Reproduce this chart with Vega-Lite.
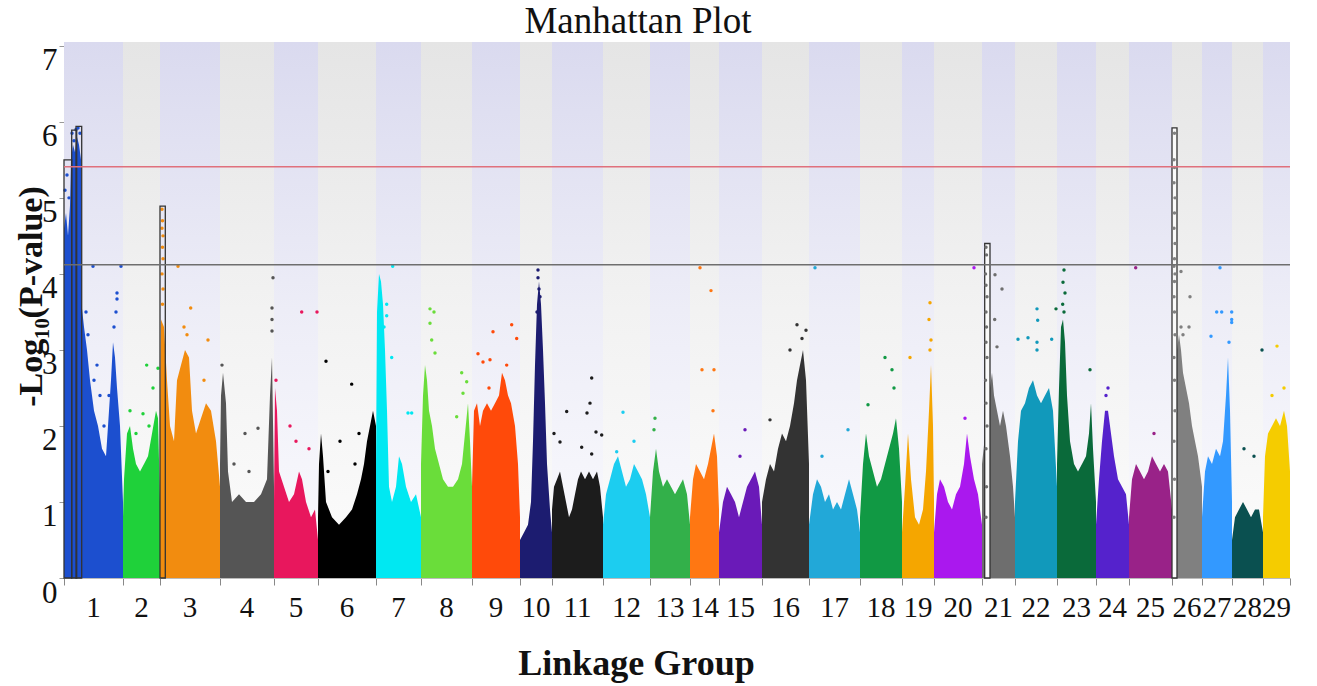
{
"$schema": "https://vega.github.io/schema/vega-lite/v6.json",
"width": 1226, "height": 536,
"autosize": "none",
"padding": {"left": 64, "top": 42, "right": 27, "bottom": 108},
"background": "white",
"config": {"view": {"stroke": null}, "font": "Liberation Serif"},
"title": {"text": "Manhattan Plot", "fontSize": 37, "font": "Liberation Serif", "fontWeight": "normal", "color": "#111", "dx": -39, "offset": 1},
"datasets": {
"bands": [
{"c":1,"s":0,"e":59,"m":29.5},{"c":2,"s":59,"e":96,"m":77.5},{"c":3,"s":96,"e":156,"m":126},{"c":4,"s":156,"e":210,"m":183},{"c":5,"s":210,"e":254,"m":232},{"c":6,"s":254,"e":312,"m":283},{"c":7,"s":312,"e":357,"m":334.5},{"c":8,"s":357,"e":408,"m":382.5},{"c":9,"s":408,"e":456,"m":432},{"c":10,"s":456,"e":488,"m":472},{"c":11,"s":488,"e":539,"m":513.5},{"c":12,"s":539,"e":586,"m":562.5},{"c":13,"s":586,"e":626,"m":606},{"c":14,"s":626,"e":655,"m":640.5},{"c":15,"s":655,"e":698,"m":676.5},{"c":16,"s":698,"e":745,"m":721.5},{"c":17,"s":745,"e":796,"m":770.5},{"c":18,"s":796,"e":838,"m":817},{"c":19,"s":838,"e":870,"m":854},{"c":20,"s":870,"e":918,"m":894},{"c":21,"s":918,"e":951,"m":934.5},{"c":22,"s":951,"e":993,"m":972},{"c":23,"s":993,"e":1032,"m":1012.5},{"c":24,"s":1032,"e":1065,"m":1048.5},{"c":25,"s":1065,"e":1108,"m":1086.5},{"c":26,"s":1108,"e":1138,"m":1123},{"c":27,"s":1138,"e":1168,"m":1153},{"c":28,"s":1168,"e":1199,"m":1183.5},{"c":29,"s":1199,"e":1226,"m":1212.5}
],
"env": [
{"c":"1","x":0,"p":4.6},{"c":"1","x":2,"p":4.8},{"c":"1","x":4,"p":4.5},{"c":"1","x":6,"p":4.9},{"c":"1","x":7,"p":5.5},{"c":"1","x":9,"p":5.7},{"c":"1","x":11,"p":5.6},{"c":"1","x":13,"p":5.8},{"c":"1","x":15,"p":5.7},{"c":"1","x":17,"p":5.5},{"c":"1","x":17.5,"p":3.6},{"c":"1","x":20,"p":3.3},{"c":"1","x":23,"p":3.0},{"c":"1","x":26,"p":2.6},{"c":"1","x":30,"p":2.2},{"c":"1","x":34,"p":2.0},{"c":"1","x":38,"p":1.7},{"c":"1","x":42,"p":1.6},{"c":"1","x":44,"p":2.0},{"c":"1","x":47,"p":2.6},{"c":"1","x":49,"p":3.1},{"c":"1","x":51,"p":2.9},{"c":"1","x":53,"p":2.5},{"c":"1","x":56,"p":2.0},{"c":"1","x":59,"p":1.0},
{"c":"2","x":59,"p":0.8},{"c":"2","x":60,"p":1.3},{"c":"2","x":63,"p":1.9},{"c":"2","x":66,"p":2.0},{"c":"2","x":69,"p":1.7},{"c":"2","x":72,"p":1.5},{"c":"2","x":76,"p":1.4},{"c":"2","x":80,"p":1.5},{"c":"2","x":84,"p":1.6},{"c":"2","x":88,"p":1.9},{"c":"2","x":92,"p":2.2},{"c":"2","x":94,"p":2.1},{"c":"2","x":96,"p":1.0},
{"c":"3","x":96,"p":2.0},{"c":"3","x":97,"p":3.4},{"c":"3","x":100,"p":3.3},{"c":"3","x":103,"p":2.6},{"c":"3","x":106,"p":2.0},{"c":"3","x":110,"p":1.8},{"c":"3","x":113,"p":2.6},{"c":"3","x":117,"p":2.8},{"c":"3","x":121,"p":3.0},{"c":"3","x":125,"p":2.9},{"c":"3","x":128,"p":2.2},{"c":"3","x":132,"p":1.9},{"c":"3","x":137,"p":2.1},{"c":"3","x":142,"p":2.3},{"c":"3","x":147,"p":2.2},{"c":"3","x":152,"p":1.8},{"c":"3","x":156,"p":1.2},
{"c":"4","x":156,"p":1.5},{"c":"4","x":157,"p":2.4},{"c":"4","x":159,"p":2.7},{"c":"4","x":162,"p":2.3},{"c":"4","x":164,"p":1.4},{"c":"4","x":168,"p":1.0},{"c":"4","x":175,"p":1.1},{"c":"4","x":182,"p":1.0},{"c":"4","x":190,"p":1.0},{"c":"4","x":197,"p":1.1},{"c":"4","x":203,"p":1.3},{"c":"4","x":206,"p":2.4},{"c":"4","x":208,"p":2.9},{"c":"4","x":210,"p":1.2},
{"c":"5","x":210,"p":1.0},{"c":"5","x":211,"p":2.5},{"c":"5","x":213,"p":2.2},{"c":"5","x":215,"p":1.4},{"c":"5","x":220,"p":1.2},{"c":"5","x":225,"p":1.0},{"c":"5","x":230,"p":1.1},{"c":"5","x":235,"p":1.4},{"c":"5","x":238,"p":1.3},{"c":"5","x":242,"p":1.0},{"c":"5","x":247,"p":0.8},{"c":"5","x":251,"p":0.9},{"c":"5","x":254,"p":0.5},
{"c":"6","x":254,"p":0.8},{"c":"6","x":255,"p":1.5},{"c":"6","x":257,"p":1.9},{"c":"6","x":259,"p":1.6},{"c":"6","x":262,"p":1.0},{"c":"6","x":268,"p":0.8},{"c":"6","x":275,"p":0.7},{"c":"6","x":282,"p":0.8},{"c":"6","x":288,"p":0.9},{"c":"6","x":293,"p":1.1},{"c":"6","x":297,"p":1.3},{"c":"6","x":300,"p":1.5},{"c":"6","x":303,"p":1.8},{"c":"6","x":306,"p":2.0},{"c":"6","x":309,"p":2.2},{"c":"6","x":312,"p":2.0},
{"c":"7","x":312,"p":1.5},{"c":"7","x":313,"p":3.5},{"c":"7","x":315,"p":4.0},{"c":"7","x":317,"p":3.9},{"c":"7","x":319,"p":3.6},{"c":"7","x":321,"p":3.0},{"c":"7","x":323,"p":2.2},{"c":"7","x":325,"p":1.2},{"c":"7","x":328,"p":1.0},{"c":"7","x":332,"p":1.2},{"c":"7","x":335,"p":1.6},{"c":"7","x":338,"p":1.5},{"c":"7","x":342,"p":1.2},{"c":"7","x":347,"p":1.0},{"c":"7","x":352,"p":1.1},{"c":"7","x":357,"p":0.8},
{"c":"8","x":357,"p":1.5},{"c":"8","x":359,"p":2.4},{"c":"8","x":361,"p":2.8},{"c":"8","x":363,"p":2.6},{"c":"8","x":365,"p":2.2},{"c":"8","x":368,"p":2.0},{"c":"8","x":371,"p":1.7},{"c":"8","x":375,"p":1.5},{"c":"8","x":379,"p":1.3},{"c":"8","x":384,"p":1.2},{"c":"8","x":389,"p":1.2},{"c":"8","x":394,"p":1.3},{"c":"8","x":398,"p":1.5},{"c":"8","x":401,"p":1.9},{"c":"8","x":404,"p":2.3},{"c":"8","x":406,"p":1.8},{"c":"8","x":408,"p":1.2},
{"c":"9","x":408,"p":1.2},{"c":"9","x":410,"p":2.2},{"c":"9","x":413,"p":2.3},{"c":"9","x":416,"p":2.0},{"c":"9","x":419,"p":2.2},{"c":"9","x":423,"p":2.3},{"c":"9","x":427,"p":2.2},{"c":"9","x":431,"p":2.3},{"c":"9","x":435,"p":2.4},{"c":"9","x":438,"p":2.7},{"c":"9","x":441,"p":2.6},{"c":"9","x":444,"p":2.4},{"c":"9","x":447,"p":2.3},{"c":"9","x":451,"p":2.0},{"c":"9","x":454,"p":1.5},{"c":"9","x":456,"p":0.8},
{"c":"10","x":456,"p":0.5},{"c":"10","x":460,"p":0.6},{"c":"10","x":464,"p":0.7},{"c":"10","x":467,"p":1.0},{"c":"10","x":469,"p":1.8},{"c":"10","x":471,"p":2.8},{"c":"10","x":473,"p":3.6},{"c":"10","x":475,"p":3.9},{"c":"10","x":477,"p":3.6},{"c":"10","x":479,"p":3.0},{"c":"10","x":481,"p":2.3},{"c":"10","x":483,"p":1.5},{"c":"10","x":486,"p":0.9},{"c":"10","x":488,"p":0.6},
{"c":"11","x":488,"p":0.9},{"c":"11","x":490,"p":1.2},{"c":"11","x":493,"p":1.3},{"c":"11","x":496,"p":1.4},{"c":"11","x":499,"p":1.2},{"c":"11","x":502,"p":1.0},{"c":"11","x":505,"p":0.8},{"c":"11","x":508,"p":0.9},{"c":"11","x":511,"p":1.1},{"c":"11","x":514,"p":1.3},{"c":"11","x":517,"p":1.4},{"c":"11","x":521,"p":1.3},{"c":"11","x":525,"p":1.4},{"c":"11","x":529,"p":1.3},{"c":"11","x":533,"p":1.4},{"c":"11","x":536,"p":1.2},{"c":"11","x":539,"p":0.8},
{"c":"12","x":539,"p":0.7},{"c":"12","x":542,"p":1.1},{"c":"12","x":546,"p":1.3},{"c":"12","x":550,"p":1.5},{"c":"12","x":554,"p":1.6},{"c":"12","x":558,"p":1.4},{"c":"12","x":562,"p":1.2},{"c":"12","x":566,"p":1.3},{"c":"12","x":570,"p":1.5},{"c":"12","x":574,"p":1.4},{"c":"12","x":578,"p":1.3},{"c":"12","x":582,"p":1.1},{"c":"12","x":586,"p":0.8},
{"c":"13","x":586,"p":0.8},{"c":"13","x":589,"p":1.4},{"c":"13","x":592,"p":1.7},{"c":"13","x":595,"p":1.4},{"c":"13","x":599,"p":1.2},{"c":"13","x":603,"p":1.3},{"c":"13","x":607,"p":1.2},{"c":"13","x":611,"p":1.1},{"c":"13","x":615,"p":1.2},{"c":"13","x":619,"p":1.3},{"c":"13","x":623,"p":1.1},{"c":"13","x":626,"p":0.7},
{"c":"14","x":626,"p":0.8},{"c":"14","x":629,"p":1.3},{"c":"14","x":632,"p":1.5},{"c":"14","x":636,"p":1.4},{"c":"14","x":640,"p":1.3},{"c":"14","x":644,"p":1.5},{"c":"14","x":647,"p":1.7},{"c":"14","x":650,"p":1.9},{"c":"14","x":653,"p":1.6},{"c":"14","x":655,"p":0.9},
{"c":"15","x":655,"p":0.6},{"c":"15","x":659,"p":1.0},{"c":"15","x":663,"p":1.2},{"c":"15","x":667,"p":1.1},{"c":"15","x":671,"p":1.0},{"c":"15","x":675,"p":0.8},{"c":"15","x":679,"p":1.0},{"c":"15","x":683,"p":1.2},{"c":"15","x":687,"p":1.3},{"c":"15","x":691,"p":1.4},{"c":"15","x":695,"p":1.2},{"c":"15","x":698,"p":0.7},
{"c":"16","x":698,"p":1.0},{"c":"16","x":702,"p":1.3},{"c":"16","x":706,"p":1.5},{"c":"16","x":710,"p":1.4},{"c":"16","x":714,"p":1.7},{"c":"16","x":718,"p":1.9},{"c":"16","x":722,"p":1.8},{"c":"16","x":726,"p":2.0},{"c":"16","x":730,"p":2.3},{"c":"16","x":733,"p":2.6},{"c":"16","x":736,"p":2.8},{"c":"16","x":739,"p":3.0},{"c":"16","x":742,"p":2.6},{"c":"16","x":745,"p":1.5},
{"c":"17","x":745,"p":0.7},{"c":"17","x":749,"p":1.1},{"c":"17","x":753,"p":1.3},{"c":"17","x":757,"p":1.2},{"c":"17","x":761,"p":1.0},{"c":"17","x":765,"p":1.1},{"c":"17","x":769,"p":0.9},{"c":"17","x":773,"p":1.0},{"c":"17","x":777,"p":0.9},{"c":"17","x":781,"p":1.1},{"c":"17","x":785,"p":1.3},{"c":"17","x":789,"p":1.1},{"c":"17","x":793,"p":0.9},{"c":"17","x":796,"p":0.6},
{"c":"18","x":796,"p":0.8},{"c":"18","x":799,"p":1.5},{"c":"18","x":802,"p":1.9},{"c":"18","x":805,"p":1.6},{"c":"18","x":809,"p":1.4},{"c":"18","x":813,"p":1.2},{"c":"18","x":817,"p":1.3},{"c":"18","x":821,"p":1.5},{"c":"18","x":825,"p":1.7},{"c":"18","x":829,"p":1.9},{"c":"18","x":832,"p":2.1},{"c":"18","x":835,"p":1.7},{"c":"18","x":838,"p":1.0},
{"c":"19","x":838,"p":0.6},{"c":"19","x":841,"p":1.2},{"c":"19","x":844,"p":1.9},{"c":"19","x":847,"p":1.3},{"c":"19","x":851,"p":0.8},{"c":"19","x":855,"p":0.7},{"c":"19","x":859,"p":0.9},{"c":"19","x":862,"p":1.4},{"c":"19","x":865,"p":2.2},{"c":"19","x":867,"p":2.8},{"c":"19","x":869,"p":2.0},{"c":"19","x":870,"p":1.0},
{"c":"20","x":870,"p":0.6},{"c":"20","x":873,"p":1.1},{"c":"20","x":876,"p":1.3},{"c":"20","x":880,"p":1.2},{"c":"20","x":884,"p":1.0},{"c":"20","x":888,"p":0.9},{"c":"20","x":892,"p":1.1},{"c":"20","x":896,"p":1.2},{"c":"20","x":900,"p":1.5},{"c":"20","x":903,"p":1.9},{"c":"20","x":906,"p":1.6},{"c":"20","x":910,"p":1.3},{"c":"20","x":914,"p":1.1},{"c":"20","x":918,"p":0.7},
{"c":"21","x":918,"p":1.5},{"c":"21","x":926,"p":2.5},{"c":"21","x":928,"p":2.7},{"c":"21","x":930,"p":2.4},{"c":"21","x":933,"p":2.2},{"c":"21","x":936,"p":2.0},{"c":"21","x":939,"p":2.2},{"c":"21","x":942,"p":2.0},{"c":"21","x":946,"p":1.6},{"c":"21","x":949,"p":1.2},{"c":"21","x":951,"p":0.8},
{"c":"22","x":951,"p":1.0},{"c":"22","x":954,"p":1.8},{"c":"22","x":957,"p":2.2},{"c":"22","x":961,"p":2.3},{"c":"22","x":965,"p":2.5},{"c":"22","x":969,"p":2.6},{"c":"22","x":973,"p":2.4},{"c":"22","x":977,"p":2.3},{"c":"22","x":981,"p":2.4},{"c":"22","x":985,"p":2.5},{"c":"22","x":989,"p":2.2},{"c":"22","x":993,"p":1.2},
{"c":"23","x":993,"p":1.5},{"c":"23","x":995,"p":2.5},{"c":"23","x":997,"p":3.3},{"c":"23","x":999,"p":3.4},{"c":"23","x":1001,"p":3.1},{"c":"23","x":1003,"p":2.4},{"c":"23","x":1006,"p":1.8},{"c":"23","x":1010,"p":1.5},{"c":"23","x":1014,"p":1.4},{"c":"23","x":1018,"p":1.5},{"c":"23","x":1022,"p":1.6},{"c":"23","x":1025,"p":1.9},{"c":"23","x":1027,"p":2.3},{"c":"23","x":1029,"p":1.7},{"c":"23","x":1032,"p":1.0},
{"c":"24","x":1032,"p":0.7},{"c":"24","x":1035,"p":1.3},{"c":"24","x":1038,"p":1.8},{"c":"24","x":1041,"p":2.2},{"c":"24","x":1044,"p":2.2},{"c":"24","x":1047,"p":1.9},{"c":"24","x":1050,"p":1.6},{"c":"24","x":1054,"p":1.3},{"c":"24","x":1058,"p":1.2},{"c":"24","x":1062,"p":1.1},{"c":"24","x":1065,"p":0.7},
{"c":"25","x":1065,"p":0.8},{"c":"25","x":1068,"p":1.3},{"c":"25","x":1072,"p":1.5},{"c":"25","x":1076,"p":1.4},{"c":"25","x":1080,"p":1.3},{"c":"25","x":1084,"p":1.4},{"c":"25","x":1088,"p":1.6},{"c":"25","x":1092,"p":1.5},{"c":"25","x":1096,"p":1.4},{"c":"25","x":1100,"p":1.5},{"c":"25","x":1104,"p":1.4},{"c":"25","x":1108,"p":0.9},
{"c":"26","x":1108,"p":2.0},{"c":"26","x":1113,"p":3.0},{"c":"26","x":1115,"p":3.2},{"c":"26","x":1117,"p":3.0},{"c":"26","x":1119,"p":2.7},{"c":"26","x":1122,"p":2.5},{"c":"26","x":1125,"p":2.3},{"c":"26","x":1128,"p":2.0},{"c":"26","x":1131,"p":1.8},{"c":"26","x":1134,"p":1.6},{"c":"26","x":1138,"p":1.2},
{"c":"27","x":1138,"p":0.8},{"c":"27","x":1141,"p":1.4},{"c":"27","x":1144,"p":1.6},{"c":"27","x":1148,"p":1.5},{"c":"27","x":1152,"p":1.7},{"c":"27","x":1156,"p":1.6},{"c":"27","x":1159,"p":1.8},{"c":"27","x":1162,"p":2.4},{"c":"27","x":1164,"p":2.9},{"c":"27","x":1166,"p":2.2},{"c":"27","x":1168,"p":1.0},
{"c":"28","x":1168,"p":0.5},{"c":"28","x":1171,"p":0.8},{"c":"28","x":1175,"p":0.9},{"c":"28","x":1179,"p":1.0},{"c":"28","x":1183,"p":0.9},{"c":"28","x":1187,"p":0.8},{"c":"28","x":1191,"p":0.9},{"c":"28","x":1195,"p":0.9},{"c":"28","x":1199,"p":0.6},
{"c":"29","x":1199,"p":0.8},{"c":"29","x":1201,"p":1.6},{"c":"29","x":1204,"p":1.9},{"c":"29","x":1208,"p":2.0},{"c":"29","x":1212,"p":2.1},{"c":"29","x":1216,"p":2.0},{"c":"29","x":1220,"p":2.2},{"c":"29","x":1223,"p":2.0},{"c":"29","x":1226,"p":1.4}
],
"pts": [
{"c":"1","x":29,"p":4.1},{"c":"1","x":57,"p":4.1},{"c":"1","x":53,"p":3.75},{"c":"1","x":53,"p":3.67},{"c":"1","x":22,"p":3.5},{"c":"1","x":24,"p":3.2},{"c":"1","x":30,"p":2.6},{"c":"1","x":33,"p":2.8},{"c":"1","x":36,"p":2.4},{"c":"1","x":50,"p":3.3},{"c":"1","x":52,"p":3.5},{"c":"1","x":40,"p":2.0},{"c":"1","x":1,"p":5.1},{"c":"1","x":3,"p":5.3},{"c":"1","x":5,"p":5.0},{"c":"1","x":8,"p":5.85},{"c":"1","x":12,"p":5.9},{"c":"1","x":14,"p":5.92},{"c":"1","x":16,"p":5.85},{"c":"1","x":10,"p":5.75},{"c":"1","x":45,"p":2.4},
{"c":"2","x":82.7,"p":2.8},{"c":"2","x":89,"p":2.5},{"c":"2","x":79,"p":2.16},{"c":"2","x":94,"p":2.76},{"c":"2","x":72,"p":1.9},{"c":"2","x":66,"p":2.2},{"c":"2","x":85,"p":2.0},
{"c":"3","x":98,"p":4.85},{"c":"3","x":98.5,"p":4.7},{"c":"3","x":98,"p":4.6},{"c":"3","x":99,"p":4.5},{"c":"3","x":98.5,"p":4.35},{"c":"3","x":99,"p":4.2},{"c":"3","x":98,"p":4.0},{"c":"3","x":99,"p":3.8},{"c":"3","x":98.5,"p":3.6},{"c":"3","x":114,"p":4.1},{"c":"3","x":126.7,"p":3.55},{"c":"3","x":144,"p":3.13},{"c":"3","x":120,"p":3.3},{"c":"3","x":123,"p":3.2},{"c":"3","x":140,"p":2.6},
{"c":"4","x":209,"p":3.95},{"c":"4","x":208,"p":3.55},{"c":"4","x":208,"p":3.4},{"c":"4","x":208,"p":3.25},{"c":"4","x":181,"p":1.9},{"c":"4","x":194,"p":1.97},{"c":"4","x":158,"p":2.8},{"c":"4","x":170,"p":1.5},{"c":"4","x":185,"p":1.4},
{"c":"5","x":237.7,"p":3.5},{"c":"5","x":253,"p":3.5},{"c":"5","x":212,"p":2.6},{"c":"5","x":226,"p":2.0},{"c":"5","x":232,"p":1.8},{"c":"5","x":245,"p":1.7},
{"c":"6","x":262,"p":2.85},{"c":"6","x":287.7,"p":2.55},{"c":"6","x":276,"p":1.8},{"c":"6","x":295,"p":1.9},{"c":"6","x":291,"p":1.5},{"c":"6","x":264,"p":1.4},
{"c":"7","x":328.7,"p":4.1},{"c":"7","x":322.7,"p":3.6},{"c":"7","x":322.7,"p":3.45},{"c":"7","x":327.7,"p":2.9},{"c":"7","x":344,"p":2.17},{"c":"7","x":347.7,"p":2.17},{"c":"7","x":320,"p":3.3},
{"c":"8","x":366,"p":3.54},{"c":"8","x":370,"p":3.5},{"c":"8","x":366,"p":3.35},{"c":"8","x":367.7,"p":3.13},{"c":"8","x":371,"p":2.96},{"c":"8","x":397.7,"p":2.7},{"c":"8","x":402.7,"p":2.58},{"c":"8","x":399,"p":2.43},{"c":"8","x":392.7,"p":2.12},
{"c":"9","x":414,"p":2.95},{"c":"9","x":419,"p":2.84},{"c":"9","x":426,"p":2.87},{"c":"9","x":429,"p":3.24},{"c":"9","x":447.7,"p":3.33},{"c":"9","x":452.7,"p":3.15},{"c":"9","x":425,"p":2.5},{"c":"9","x":442.7,"p":2.8},
{"c":"10","x":474,"p":4.05},{"c":"10","x":474,"p":3.95},{"c":"10","x":475,"p":3.8},{"c":"10","x":476,"p":3.7},{"c":"10","x":473,"p":3.5},
{"c":"11","x":527.7,"p":2.63},{"c":"11","x":526,"p":2.3},{"c":"11","x":523,"p":2.17},{"c":"11","x":532,"p":1.92},{"c":"11","x":537.7,"p":1.88},{"c":"11","x":502.7,"p":2.19},{"c":"11","x":490,"p":1.9},{"c":"11","x":496,"p":1.79},{"c":"11","x":517.7,"p":1.72},{"c":"11","x":527.7,"p":1.63},
{"c":"12","x":559,"p":2.18},{"c":"12","x":552.7,"p":1.66},{"c":"12","x":570,"p":1.8},
{"c":"13","x":591,"p":2.1},{"c":"13","x":590,"p":1.95},
{"c":"14","x":636,"p":4.08},{"c":"14","x":647,"p":3.78},{"c":"14","x":638,"p":2.74},{"c":"14","x":650,"p":2.74},{"c":"14","x":649,"p":2.2},
{"c":"15","x":681,"p":1.95},{"c":"15","x":676,"p":1.6},
{"c":"16","x":733,"p":3.33},{"c":"16","x":742,"p":3.26},{"c":"16","x":726,"p":3.0},{"c":"16","x":706,"p":2.08},{"c":"16","x":738,"p":3.15},
{"c":"17","x":751,"p":4.08},{"c":"17","x":784,"p":1.95},{"c":"17","x":758,"p":1.6},
{"c":"18","x":828,"p":2.74},{"c":"18","x":821,"p":2.9},{"c":"18","x":804,"p":2.28},{"c":"18","x":830,"p":2.5},
{"c":"19","x":866,"p":3.62},{"c":"19","x":865,"p":3.4},{"c":"19","x":867,"p":3.13},{"c":"19","x":846,"p":2.9},{"c":"19","x":866,"p":3.0},
{"c":"20","x":910,"p":4.08},{"c":"20","x":901,"p":2.1},
{"c":"21","x":922,"p":4.35},{"c":"21","x":922.5,"p":4.25},{"c":"21","x":921.5,"p":4.0},{"c":"21","x":922,"p":3.85},{"c":"21","x":923,"p":3.7},{"c":"21","x":922,"p":3.5},{"c":"21","x":922.5,"p":3.3},{"c":"21","x":922,"p":3.1},{"c":"21","x":923,"p":2.9},{"c":"21","x":921.5,"p":2.6},{"c":"21","x":922,"p":2.3},{"c":"21","x":923,"p":2.0},{"c":"21","x":922,"p":1.7},{"c":"21","x":922.5,"p":1.2},{"c":"21","x":922,"p":0.8},{"c":"21","x":931,"p":3.99},{"c":"21","x":938,"p":3.8},{"c":"21","x":930.7,"p":3.4},{"c":"21","x":933,"p":3.04},
{"c":"22","x":973,"p":3.54},{"c":"22","x":973.7,"p":3.39},{"c":"22","x":954,"p":3.14},{"c":"22","x":964,"p":3.16},{"c":"22","x":973,"p":3.1},{"c":"22","x":987.7,"p":3.14},{"c":"22","x":973,"p":3.0},
{"c":"23","x":1000,"p":4.05},{"c":"23","x":999,"p":3.89},{"c":"23","x":1001,"p":3.75},{"c":"23","x":998.7,"p":3.6},{"c":"23","x":992,"p":3.54},{"c":"23","x":1026,"p":2.74},{"c":"23","x":1000,"p":3.5},
{"c":"24","x":1044,"p":2.5},{"c":"24","x":1042,"p":2.4},
{"c":"25","x":1071.7,"p":4.08},{"c":"25","x":1090,"p":1.9},
{"c":"26","x":1110.5,"p":5.85},{"c":"26","x":1110,"p":5.5},{"c":"26","x":1110.5,"p":5.4},{"c":"26","x":1110,"p":5.2},{"c":"26","x":1111,"p":5.0},{"c":"26","x":1110.5,"p":4.8},{"c":"26","x":1110,"p":4.6},{"c":"26","x":1111,"p":4.4},{"c":"26","x":1110.5,"p":4.2},{"c":"26","x":1110,"p":4.1},{"c":"26","x":1111,"p":4.0},{"c":"26","x":1110.5,"p":3.9},{"c":"26","x":1110,"p":3.7},{"c":"26","x":1110.5,"p":3.5},{"c":"26","x":1111,"p":3.2},{"c":"26","x":1110,"p":2.9},{"c":"26","x":1110.5,"p":2.6},{"c":"26","x":1111,"p":2.2},{"c":"26","x":1110,"p":1.8},{"c":"26","x":1110.5,"p":1.3},{"c":"26","x":1110,"p":0.8},{"c":"26","x":1126,"p":3.7},{"c":"26","x":1117,"p":4.03},{"c":"26","x":1125,"p":3.3},{"c":"26","x":1117,"p":3.3},{"c":"26","x":1119,"p":3.2},
{"c":"27","x":1152.7,"p":3.5},{"c":"27","x":1157.7,"p":3.5},{"c":"27","x":1167.7,"p":3.5},{"c":"27","x":1167.7,"p":3.4},{"c":"27","x":1167.7,"p":3.36},{"c":"27","x":1156,"p":4.08},{"c":"27","x":1147,"p":3.18},{"c":"27","x":1165,"p":3.1},
{"c":"28","x":1198,"p":3.0},{"c":"28","x":1180,"p":1.7},{"c":"28","x":1190,"p":1.6},
{"c":"29","x":1213,"p":3.05},{"c":"29","x":1220,"p":2.5},{"c":"29","x":1208,"p":2.4}
],
"boxes": [
{"c":"1","x0":0,"x1":7.7,"top":5.5},{"c":"1","x0":7.7,"x1":12.7,"top":5.89},{"c":"1","x0":12,"x1":17.7,"top":5.94},{"c":"3","x0":96,"x1":101.3,"top":4.89},{"c":"21","x0":920.7,"x1":926,"top":4.4},{"c":"26","x0":1108,"x1":1113,"top":5.92}
],
"thr": [{"kind":"bonferroni","p":5.41},{"kind":"suggestive","p":4.12}]
},
"layer": [
{
"data": {"name": "bands"},
"transform": [{"filter": "datum.c % 2 == 1"}],
"mark": {"type": "rect", "color": {"gradient": "linear", "x1": 0, "y1": 0, "x2": 0, "y2": 1, "stops": [{"offset": 0, "color": "#dadaef"}, {"offset": 0.5, "color": "#ededf7"}, {"offset": 1, "color": "#fbfbfe"}]}},
"encoding": {
"x": {"field": "s", "type": "quantitative", "scale": {"domain": [0, 1226], "nice": false, "zero": false},
"axis": {"title": "Linkage Group", "titleFont": "Liberation Serif", "titleFontSize": 36, "titleFontWeight": "bold", "titleColor": "#111", "titleX": 572, "titleY": 85, "titleBaseline": "middle", "titleAlign": "center",
"values": [0,59,96,156,210,254,312,357,408,456,488,539,586,626,655,698,745,796,838,870,918,951,993,1032,1065,1108,1138,1168,1199,1226],
"labels": false,
"tickSize": 7, "tickColor": "#888", "domainColor": "#bbb", "grid": false}},
"x2": {"field": "e"},
"y": {"datum": 0, "type": "quantitative", "scale": {"domain": [0, 7.05], "nice": false, "zero": true},
"axis": {"title": "-Log₁₀(P-value)", "titleFont": "Liberation Serif", "titleFontSize": 34, "titleFontWeight": "bold", "titleColor": "#111", "titleAngle": -90, "titleX": -33, "titleY": 254, "titleAlign": "center", "titleBaseline": "middle",
"values": [0,0.25,0.5,0.75,1,1.25,1.5,1.75,2,2.25,2.5,2.75,3,3.25,3.5,3.75,4,4.25,4.5,4.75,5,5.25,5.5,5.75,6,6.25,6.5,6.75,7],
"labelExpr": "datum.value % 1 == 0 ? format(datum.value, 'd') : ''",
"tickSize": 5, "tickColor": "#999", "domainColor": "#999", "grid": false,
"labelFont": "Liberation Serif", "labelFontSize": 31, "labelColor": "#111", "labelBaseline": "top", "labelPadding": 2, "labelOverlap": false, "labelFlush": false, "labelBound": false}},
"y2": {"datum": 7.05}
}
},
{
"data": {"name": "bands"},
"transform": [{"filter": "datum.c % 2 == 0"}],
"mark": {"type": "rect", "color": {"gradient": "linear", "x1": 0, "y1": 0, "x2": 0, "y2": 1, "stops": [{"offset": 0, "color": "#e5e5e5"}, {"offset": 0.5, "color": "#f2f2f2"}, {"offset": 1, "color": "#fcfcfc"}]}},
"encoding": {"x": {"field": "s", "type": "quantitative"}, "x2": {"field": "e"}, "y": {"datum": 0, "type": "quantitative"}, "y2": {"datum": 7.05}}
},
{
"data": {"name": "env"},
"mark": {"type": "area", "interpolate": "linear"},
"encoding": {
"x": {"field": "x", "type": "quantitative"},
"y": {"field": "p", "type": "quantitative", "stack": null},
"y2": {"datum": 0},
"color": {"field": "c", "type": "nominal", "legend": null,
"scale": {"domain": ["1","2","3","4","5","6","7","8","9","10","11","12","13","14","15","16","17","18","19","20","21","22","23","24","25","26","27","28","29"],
"range": ["#1c4fcf","#1fd13a","#f28c0f","#555555","#e8175d","#000000","#00e8f2","#6add3a","#ff4a0a","#1c1c70","#1c1c1c","#1ccdf0","#33b04a","#ff7712","#6a1ab8","#333333","#22a8d8","#119944","#f5a600","#aa18ee","#6e6e6e","#1199bb","#0a6a3a","#5522cc","#992288","#808080","#3399ff","#0a5050","#f5cc00"]}}
}
},
{
"data": {"name": "boxes"},
"transform": [{"filter": "datum.c == '21' || datum.c == '26'"}],
"mark": {"type": "rect", "fill": "#fafafa", "stroke": "#333", "strokeWidth": 1.3},
"encoding": {"x": {"field": "x0", "type": "quantitative"}, "x2": {"field": "x1"}, "y": {"field": "top", "type": "quantitative"}, "y2": {"datum": 0}}
},
{
"data": {"name": "pts"},
"mark": {"type": "circle", "size": 12, "opacity": 1},
"encoding": {
"x": {"field": "x", "type": "quantitative"},
"y": {"field": "p", "type": "quantitative"},
"color": {"field": "c", "type": "nominal", "legend": null}
}
},
{
"data": {"name": "boxes"},
"transform": [{"filter": "datum.c == '1' || datum.c == '3'"}],
"mark": {"type": "rect", "fill": null, "fillOpacity": 0, "stroke": "#333", "strokeWidth": 1.3},
"encoding": {"x": {"field": "x0", "type": "quantitative"}, "x2": {"field": "x1"}, "y": {"field": "top", "type": "quantitative"}, "y2": {"datum": 0}}
},
{
"data": {"name": "thr"},
"transform": [{"filter": "datum.kind == 'bonferroni'"}],
"mark": {"type": "rule", "color": "#e0707c", "strokeWidth": 1.6},
"encoding": {"y": {"field": "p", "type": "quantitative"}}
},
{
"data": {"name": "thr"},
"transform": [{"filter": "datum.kind == 'suggestive'"}],
"mark": {"type": "rule", "color": "#6e6e6e", "strokeWidth": 1.6},
"encoding": {"y": {"field": "p", "type": "quantitative"}}
},
{
"data": {"name": "bands"},
"mark": {"type": "text", "font": "Liberation Serif", "fontSize": 29, "color": "#111", "baseline": "alphabetic", "align": "center"},
"encoding": {"x": {"field": "m", "type": "quantitative"}, "y": {"datum": -0.51, "type": "quantitative"}, "text": {"field": "c", "type": "nominal"}}
}
]
}
